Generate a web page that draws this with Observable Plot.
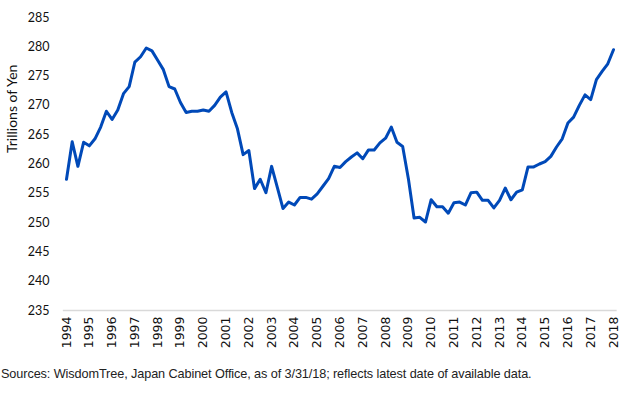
<!DOCTYPE html>
<html>
<head>
<meta charset="utf-8">
<script src="https://cdn.jsdelivr.net/npm/d3@7"></script>
<script src="https://cdn.jsdelivr.net/npm/@observablehq/plot@0.6"></script>
<style>
  html, body { margin: 0; padding: 0; background: #fff; }
  #chart { width: 631px; }
  .caption { font-family: "Liberation Sans", Arial, sans-serif; font-size: 12.7px; color: #222; margin: 9px 0 0 1px; letter-spacing: -0.1px; }
  #chart svg g[aria-label="x-axis tick label"] text { font-family: "DejaVu Sans", sans-serif; font-size: 12.5px; }
</style>
</head>
<body>
<div id="chart"></div>
<script>
// Quarterly series, 1994 Q1 through 2018 Q1 (trillions of yen)
const startYear = 1994;
const values = [
  257.4, 263.8, 259.6, 263.7, 263.1, 264.3, 266.3, 269.0,
  267.6, 269.2, 272.0, 273.2, 277.4, 278.3, 279.8, 279.3,
  277.7, 276.1, 273.2, 272.8, 270.5, 268.8, 269.0, 269.0,
  269.2, 269.0, 270.0, 271.4, 272.3, 268.8, 266.0, 261.6,
  262.3, 255.8, 257.4, 255.1, 259.6, 256.0, 252.4, 253.5,
  253.0, 254.3, 254.3, 254.0, 254.9, 256.2, 257.5, 259.6,
  259.4, 260.4, 261.2, 261.9, 260.9, 262.4, 262.4, 263.6,
  264.4, 266.3, 263.7, 263.0, 257.5, 250.8, 250.9, 250.1,
  253.9, 252.7, 252.7, 251.6, 253.4, 253.5, 253.0, 255.1,
  255.2, 253.8, 253.8, 252.5, 253.8, 255.9, 253.9, 255.2,
  255.6, 259.5, 259.5, 260.0, 260.4, 261.3, 262.9, 264.3,
  267.0, 268.0, 270.0, 271.8, 271.0, 274.4, 275.8, 277.1,
  279.5
];
const yearTicks = d3.range(1994, 2019);
const yTicks = d3.range(235, 286, 5);
const yLabel = "Trillions of Yen";
const captionText = "Sources: WisdomTree, Japan Cabinet Office, as of 3/31/18; reflects latest date of available data.";

const data = values.map((v, i) => ({ t: startYear + i / 4, v }));

const chart = Plot.plot({
  width: 631,
  height: 358,
  marginTop: 17,
  marginBottom: 48,
  marginLeft: 66,
  marginRight: 18,
  style: { fontFamily: "Lato, 'Liberation Sans', sans-serif", fontSize: "12.5px", color: "#111", background: "#fff" },
  x: { domain: [1994, 2018], ticks: yearTicks, tickFormat: d => String(d), tickRotate: -90, tickSize: 0, tickPadding: 6, label: null },
  y: { domain: [235, 285], ticks: yTicks, tickSize: 0, tickPadding: 17, label: null },
  marks: [
    Plot.ruleY([235], { stroke: "#d9d9d9", strokeWidth: 1.3, x1: 1993.86, x2: 2018.16 }),
    Plot.text([yLabel], { frameAnchor: "left", rotate: -90, dx: -54, dy: -11, fontSize: 14, fill: "#111", text: d => d }),
    Plot.line(data, { x: "t", y: "v", stroke: "#0049B8", strokeWidth: 3, strokeLinejoin: "round" })
  ]
});
document.getElementById("chart").appendChild(chart);
const cap = document.createElement("div");
cap.className = "caption";
cap.textContent = captionText;
document.getElementById("chart").appendChild(cap);
</script>
</body>
</html>
